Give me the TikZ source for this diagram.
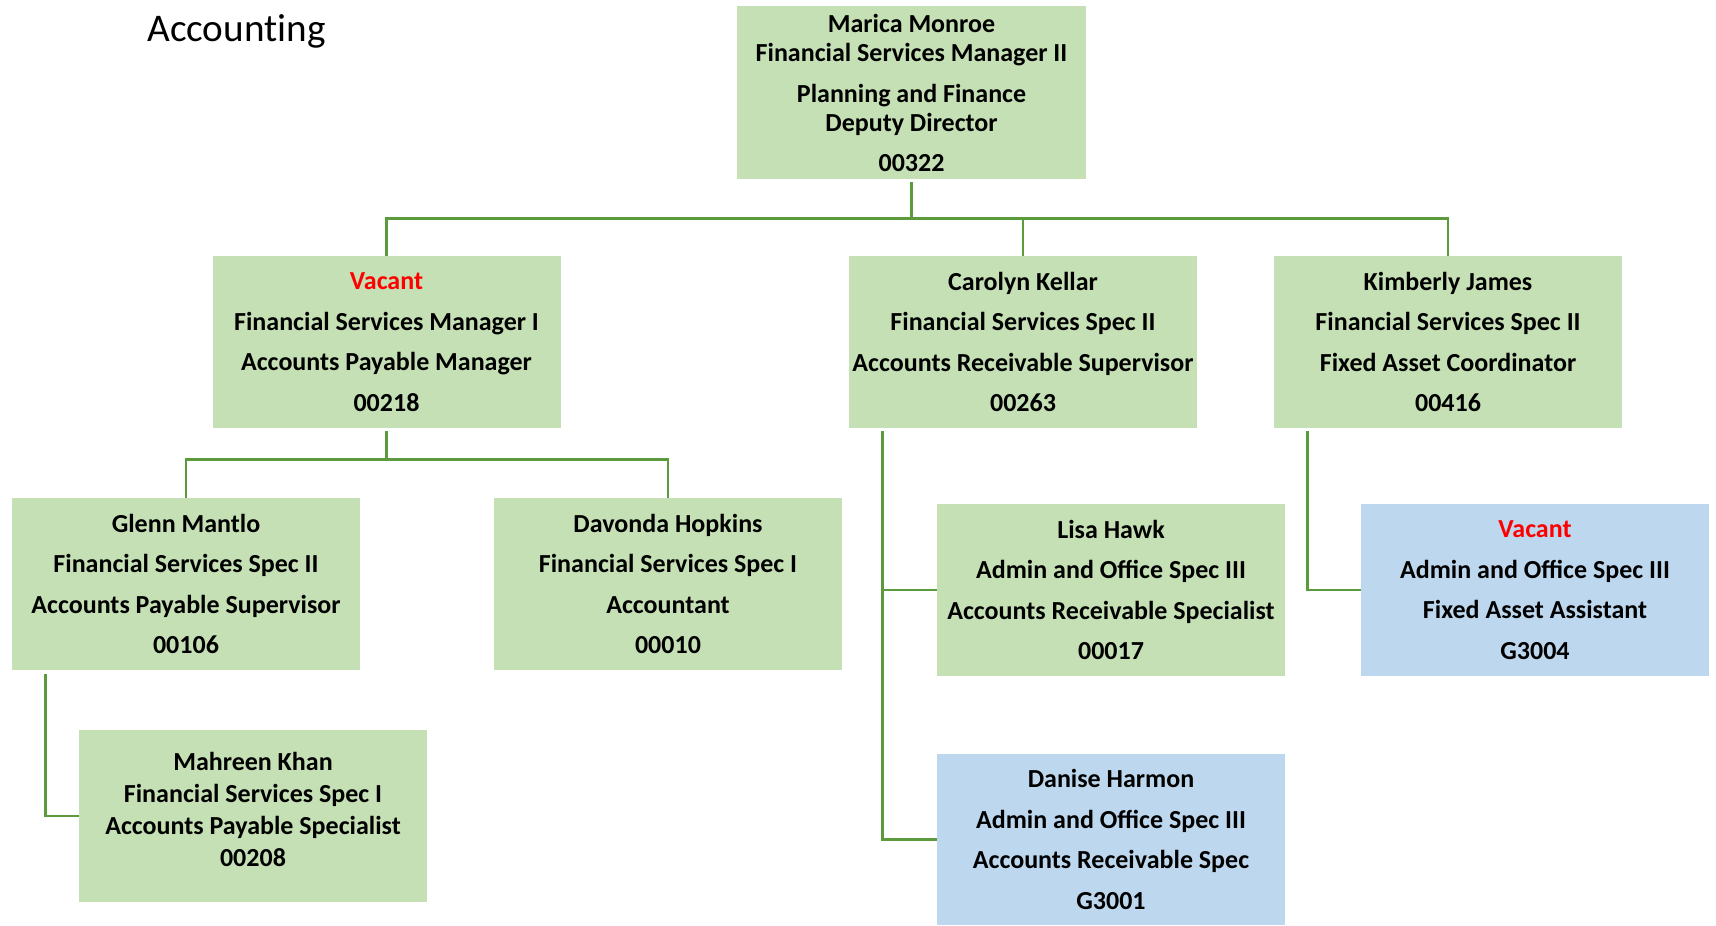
\documentclass[tikz,border=0pt]{standalone}
\usepackage{fontspec}
\setmainfont{Carlito}
\usepackage{xcolor}
\usepackage{tikz}
\usetikzlibrary{positioning,calc}
\definecolor{colorgr}{HTML}{C5E0B4}
\definecolor{colorbl}{HTML}{BDD7EE}
\definecolor{colorln}{HTML}{5B9B3E}
\definecolor{colorvac}{HTML}{FF0000}
\tikzset{
  boxgr/.style={fill=colorgr, minimum width=174pt, minimum height=86pt, inner sep=0pt,
    align=center, font=\fontsize{13}{20.25}\selectfont\bfseries},
  boxbl/.style={boxgr, fill=colorbl},
  edgeorg/.style={colorln, line width=1.3pt}
}
\newcommand\vac{\textcolor{colorvac}{Vacant}}

\begin{document}
\begin{tikzpicture}[x=0.5pt, y=-0.5pt]
\useasboundingbox (0,0) rectangle (1716,925);
\node[anchor=base west, inner sep=0pt, font=\fontsize{19.6}{22}\selectfont\addfontfeature{Ligatures=NoCommon}] (title) at (147,42) {Accounting};
\node[boxgr, minimum width=174.5pt, minimum height=86.5pt, font=\fontsize{13}{14.75}\selectfont\bfseries] (mm) at (911.5,92.5)
  {Marica Monroe\\Financial Services Manager II\\[5.5pt]Planning and Finance\\Deputy Director\\[5pt]00322};
\node[boxgr] (apm) at (386.5,342) {\vac\\Financial Services Manager I\\Accounts Payable Manager\\00218};
\node[boxgr] (ck) at (1023,342) {Carolyn Kellar\\Financial Services Spec II\\Accounts Receivable Supervisor\\00263};
\node[boxgr] (kj) at (1448,342) {Kimberly James\\Financial Services Spec II\\Fixed Asset Coordinator\\00416};
\node[boxgr] (gm) at (186,584) {Glenn Mantlo\\Financial Services Spec II\\Accounts Payable Supervisor\\00106};
\node[boxgr] (dh) at (668,584) {Davonda Hopkins\\Financial Services Spec I\\Accountant\\00010};
\node[boxgr, font=\fontsize{13}{16}\selectfont\bfseries, text depth=7pt] (mk) at (253,816) {Mahreen Khan\\Financial Services Spec I\\Accounts Payable Specialist\\00208};
\node[boxgr] (lh) at (1111,590) {Lisa Hawk\\Admin and Office Spec III\\Accounts Receivable Specialist\\00017};
\node[boxbl, minimum height=85.5pt] (dn) at (1111,839.5) {Danise Harmon\\Admin and Office Spec III\\Accounts Receivable Spec\\G3001};
\node[boxbl] (fa) at (1535,590) {\vac\\Admin and Office Spec III\\Fixed Asset Assistant\\G3004};
% connectors
\draw[edgeorg] ([yshift=-1.5pt]mm.south) -- ++(0,36) -| (apm.north);
\draw[edgeorg] ([yshift=-1.5pt]mm.south) -- ++(0,36) -| (ck.north);
\draw[edgeorg] ([yshift=-1.5pt]mm.south) -- ++(0,36) -| (kj.north);
\draw[edgeorg] ([yshift=-1.5pt]apm.south) -- ++(0,28) -| (gm.north);
\draw[edgeorg] ([yshift=-1.5pt]apm.south) -- ++(0,28) -| (dh.north);
\draw[edgeorg] ([xshift=17pt,yshift=-2pt]gm.south west) |- (mk.west);
\draw[edgeorg] ([xshift=17pt,yshift=-1.5pt]ck.south west) |- (lh.west);
\draw[edgeorg] ([xshift=17pt,yshift=-1.5pt]ck.south west) |- (dn.west);
\draw[edgeorg] ([xshift=17pt,yshift=-1.5pt]kj.south west) |- (fa.west);
\end{tikzpicture}
\end{document}
